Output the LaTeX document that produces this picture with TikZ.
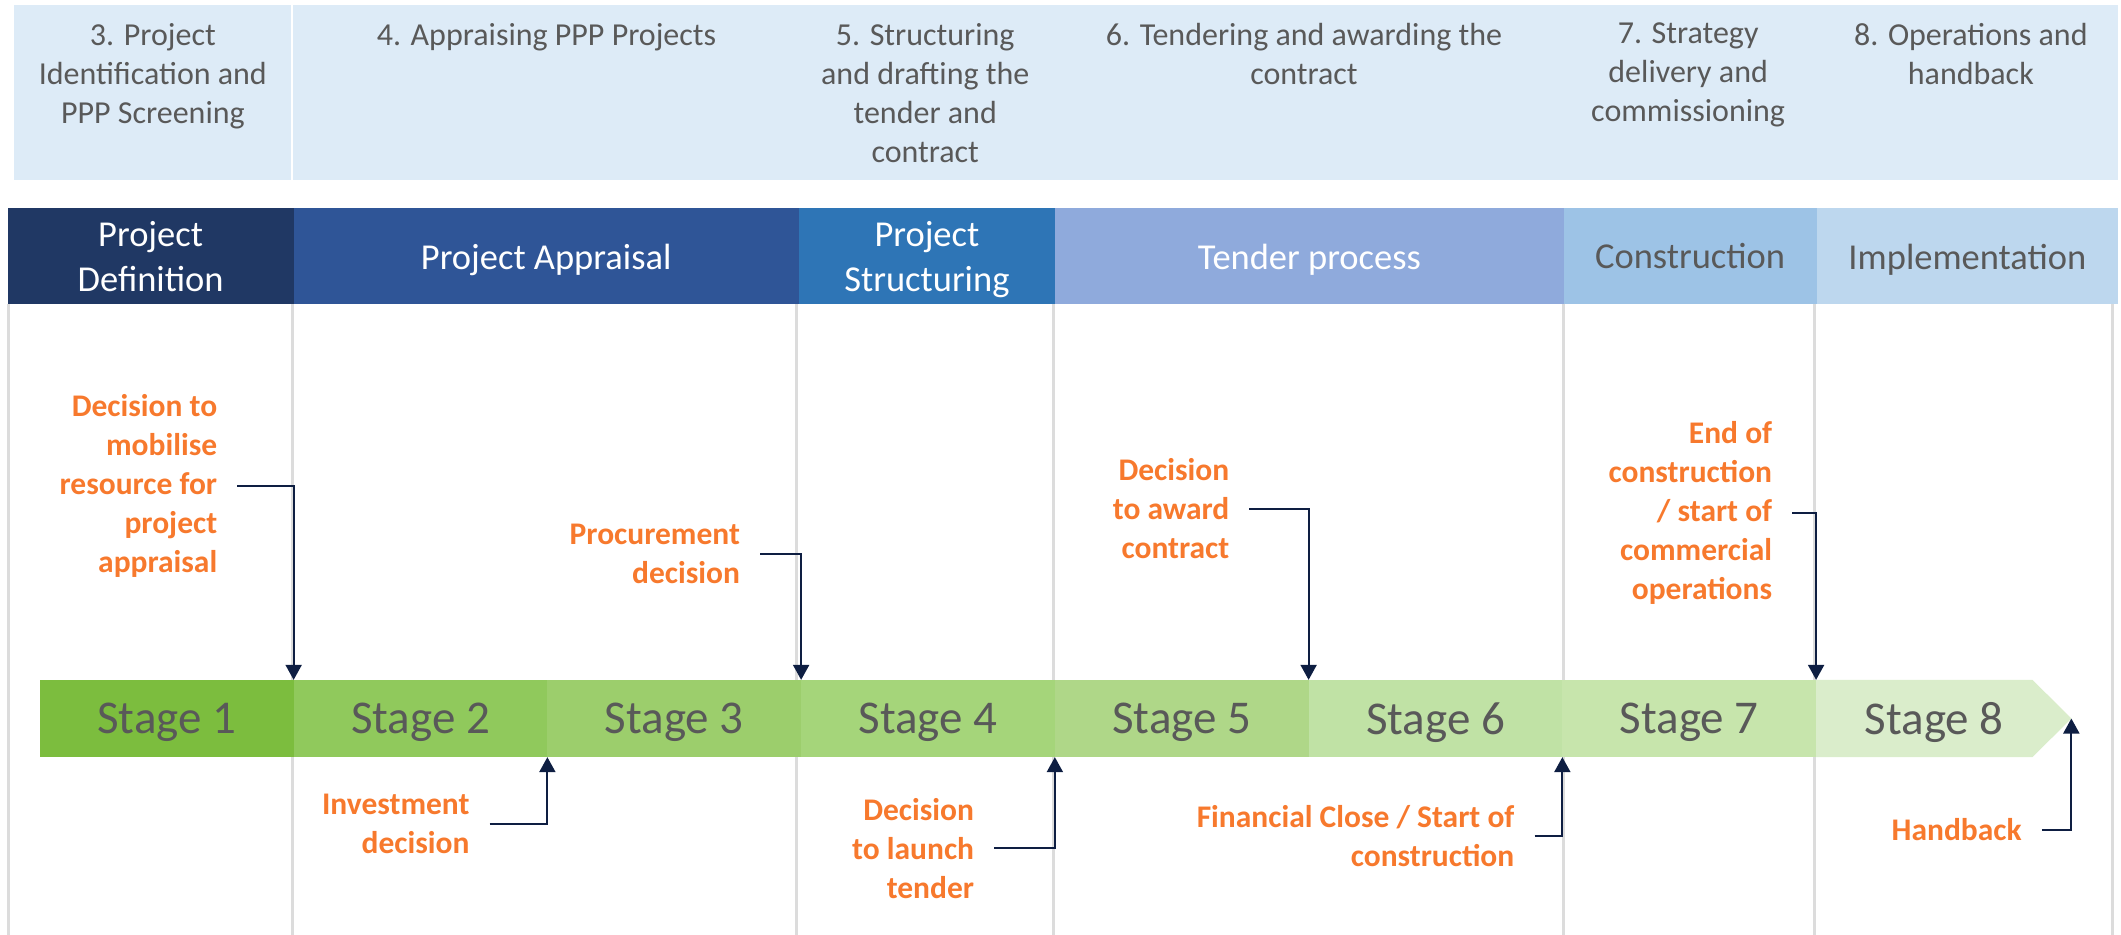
\documentclass[tikz,border=0pt]{standalone}
\usepackage{fontspec}
\setmainfont{Carlito}
\usetikzlibrary{arrows.meta,positioning}

\definecolor{hdrfill}{RGB}{221,235,247}
\definecolor{txtgray}{RGB}{89,89,89}
\definecolor{phdef}{RGB}{32,56,100}
\definecolor{phapp}{RGB}{47,85,151}
\definecolor{phstr}{RGB}{46,117,182}
\definecolor{phten}{RGB}{143,170,220}
\definecolor{phcon}{RGB}{157,195,230}
\definecolor{phimp}{RGB}{189,215,238}
\definecolor{stA}{RGB}{124,189,62}
\definecolor{stB}{RGB}{144,201,92}
\definecolor{stC}{RGB}{156,206,108}
\definecolor{stD}{RGB}{165,213,122}
\definecolor{stE}{RGB}{175,215,136}
\definecolor{stF}{RGB}{192,226,165}
\definecolor{stG}{RGB}{199,229,172}
\definecolor{stH}{RGB}{218,237,203}
\definecolor{mileorange}{RGB}{247,121,45}
\definecolor{linknavy}{RGB}{14,30,66}
\definecolor{gridgray}{RGB}{220,220,220}

\tikzset{
  hdrtext/.style={anchor=north, inner sep=0pt, align=center, text=txtgray,
    font=\fontsize{32}{39}\selectfont},
  phasebox/.style={minimum height=96.1pt, inner sep=0pt, outer sep=0pt, align=center,
    text depth=0pt, font=\fontsize{36.5}{44.6}\selectfont},
  stagebox/.style={minimum width=253.8pt, minimum height=77.3pt, inner sep=0pt,
    outer sep=0pt, text depth=0pt, text=txtgray, font=\fontsize{47}{56}\selectfont},
  milestone/.style={anchor=east, align=right, inner xsep=20pt, inner ysep=0pt,
    text=mileorange, font=\bfseries\fontsize{31.5}{39}\selectfont},
  link/.style={draw=linknavy, line width=2pt, -{Triangle[width=16pt,length=15pt]}},
  gridline/.style={draw=gridgray, line width=3pt},
}

\begin{document}
\begin{tikzpicture}[x=1.353pt, y=-1.353pt]
    \useasboundingbox (0,0) rectangle (1568,691);

    % guide lines
    \foreach \x in {6,216.5,589,779,1155.5,1341.5,1562}
        \draw[gridline] (\x,225) -- (\x,691);

    % chapter headers
    \fill[hdrfill] (10,4) rectangle (215,133);
    \fill[hdrfill] (216.5,4) rectangle (1566,133);
    \node[hdrtext] (h3) at (113,17) {3. Project\\Identification and\\PPP Screening};
    \node[hdrtext] (h4) at (404,17) {4. Appraising PPP Projects};
    \node[hdrtext] (h5) at (684,17) {5. Structuring\\and drafting the\\tender and\\contract};
    \node[hdrtext] (h6) at (964,17) {6. Tendering and awarding the\\contract};
    \node[hdrtext] (h7) at (1248,17) {7. Strategy\\delivery and\\commissioning};
    \node[hdrtext] (h8) at (1457,17) {8. Operations and\\handback};

    % phases
    \node[phasebox, fill=phdef, text=white, minimum width=285.9pt, anchor=north west] (pdef) at (5.7,154) {Project\\Definition};
    \node[phasebox, fill=phapp, text=white, minimum width=505.3pt, right=0pt of pdef] (papp) {Project Appraisal};
    \node[phasebox, fill=phstr, text=white, minimum width=256.4pt, right=0pt of papp] (pstr) {Project\\Structuring};
    \node[phasebox, fill=phten, text=white, minimum width=508.7pt, right=0pt of pstr] (pten) {Tender process};
    \node[phasebox, fill=phcon, text=txtgray, minimum width=253.0pt, right=0pt of pten] (pcon) {Construction};
    \node[phasebox, fill=phimp, text=txtgray, minimum width=301.7pt, right=0pt of pcon] (pimp) {Implementation};

    % stages
    \node[stagebox, fill=stA, anchor=north west] (s1) at (29.5,502.6) {Stage 1};
    \node[stagebox, fill=stB, right=0pt of s1] (s2) {Stage 2};
    \node[stagebox, fill=stC, right=0pt of s2] (s3) {Stage 3};
    \node[stagebox, fill=stD, right=0pt of s3] (s4) {Stage 4};
    \node[stagebox, fill=stE, right=0pt of s4] (s5) {Stage 5};
    \node[stagebox, fill=stF, right=0pt of s5] (s6) {Stage 6};
    \node[stagebox, fill=stG, right=0pt of s6] (s7) {Stage 7};
    \fill[stH] (s7.north east) -- ++(160,0) -- ++(28.7,28.55) -- ++(-28.7,28.55) -- (s7.south east) -- cycle;
    \path (s7.east) ++(188.7,0) coordinate (s8tip);
    \node[stagebox, minimum width=0pt] (s8) at (1430,531.15) {Stage 8};

    % milestones above
    \node[milestone] (m1) at (175.5,359.5) {Decision to\\mobilise\\resource for\\project\\appraisal};
    \node[milestone] (m2) at (562,409.5) {Procurement\\decision};
    \node[milestone] (m3) at (923.7,376.3) {Decision\\to award\\contract};
    \node[milestone] (m4) at (1325,379.5) {End of\\construction\\/ start of\\commercial\\operations};
    \draw[link] (m1.east) -| (s1.north east);
    \draw[link] (m2.east) -| (s3.north east);
    \draw[link] (m3.east) -| (s5.north east);
    \draw[link] (m4.east) -| (s7.north east);

    % milestones below
    \node[milestone] (m5) at (362,609) {Investment\\decision};
    \node[milestone] (m6) at (735,627) {Decision\\to launch\\tender};
    \node[milestone] (m7) at (1134.4,618.3) {Financial Close / Start of\\construction};
    \node[milestone] (m8) at (1509.5,613.4) {Handback};
    \draw[link] (m5.east) -| (s2.south east);
    \draw[link] (m6.east) -| (s4.south east);
    \draw[link] (m7.east) -| (s6.south east);
    \draw[link] (m8.east) -| (s8tip);
\end{tikzpicture}
\end{document}
